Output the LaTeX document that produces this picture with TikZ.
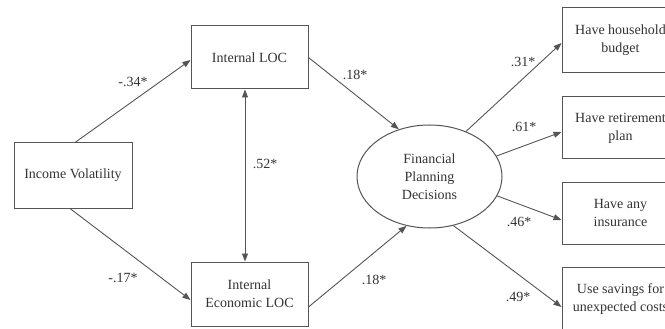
\documentclass[tikz,border=0pt]{standalone}
\usepackage{fontspec}
\setmainfont{Liberation Serif}
\newfontfamily\tnr{Liberation Serif}
\usetikzlibrary{arrows.meta,shapes.geometric}
\definecolor{ln}{HTML}{555555}
\definecolor{tx}{HTML}{333333}
\begin{document}
\begin{tikzpicture}[x=1pt,y=-1pt,
  every node/.style={font=\tnr\fontsize{14}{18}\selectfont, text=tx},
  box/.style={draw=ln, line width=1pt, rectangle, minimum width=117pt, align=center, inner sep=0pt},
  oval/.style={draw=ln, line width=1pt, ellipse, minimum width=145pt, minimum height=103pt, align=center, inner sep=0pt},
  path/.style={draw=ln, line width=0.9pt, -{Triangle[length=8pt,width=6pt]}},
  coef/.style={inner sep=0pt}]
\useasboundingbox (0,0) rectangle (665,329);
\clip (0,0) rectangle (665,329);
\fill[white] (0,0) rectangle (665,329);
% nodes
\node[box, minimum width=118pt, minimum height=65pt] (iv) at (73,175.5) {Income Volatility};
\node[box, minimum height=63pt] (iloc) at (249.5,57.5) {Internal LOC};
\node[box, minimum height=64pt] (ieloc) at (249.5,294) {Internal\\Economic LOC};
\node[oval] (fpd) at (429.5,176.5) {Financial\\Planning\\Decisions};
\node[box, minimum height=65pt] (b1) at (620.5,40.5) {Have household\\budget};
\node[box, minimum height=62pt] (b2) at (620.5,128) {Have retirement\\plan};
\node[box, minimum height=62pt] (b3) at (620.5,213) {Have any\\insurance};
\node[box, minimum height=64pt] (b4) at (620.5,299) {Use savings for\\unexpected costs};
% connectors
\draw[path] ([xshift=2pt]iv.north) -- ([yshift=-2.5pt]iloc.west);
\draw[path] ([xshift=-3pt]iv.south) -- ([yshift=-6pt]ieloc.west);
\draw[path, {Triangle[length=8pt,width=6pt]}-{Triangle[length=8pt,width=6pt]}] ([xshift=-4.5pt]iloc.south) -- ([xshift=-4.5pt]ieloc.north);
\draw[path] (iloc.east) -- (fpd.123);
\draw[path] ([yshift=-13pt]ieloc.east) -- (fpd.245);
\draw[path] (fpd.51) -- ([yshift=-2.5pt]b1.west);
\draw[path] (fpd.17) -- ([yshift=-4pt]b2.west);
\draw[path] (fpd.-16) -- ([yshift=-7pt]b3.west);
\draw[path] (fpd.-64) -- ([yshift=-8pt]b4.west);
% coefficients
\node[coef] (c1) at (133,82) {-.34*};
\node[coef] (c2) at (265,164) {.52*};
\node[coef] (c3) at (123,278) {-.17*};
\node[coef] (c4) at (355,75) {.18*};
\node[coef] (c5) at (374,280) {.18*};
\node[coef] (c6) at (523,62) {.31*};
\node[coef] (c7) at (524,127) {.61*};
\node[coef] (c8) at (519,222) {.46*};
\node[coef] (c9) at (518,297) {.49*};
\end{tikzpicture}
\end{document}
